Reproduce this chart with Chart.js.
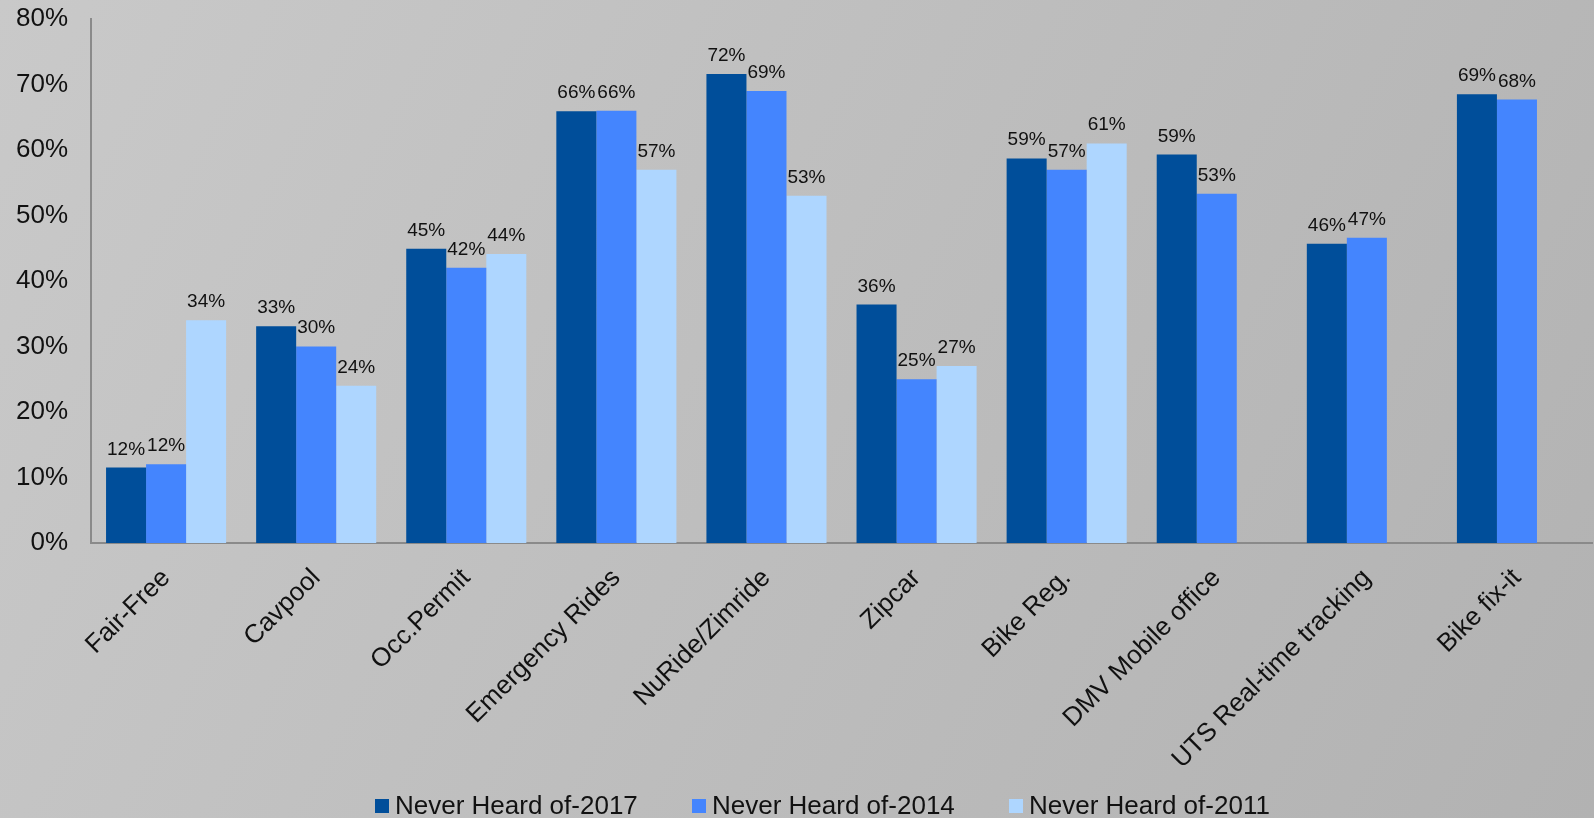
<!DOCTYPE html>
<html lang="en">

<head>
  <meta charset="UTF-8">
  <title>Never Heard Of</title>
  <script src="https://cdn.jsdelivr.net/npm/chart.js"></script>
  <style>
    html, body { margin: 0; padding: 0; }
    #wrap { width: 1594px; height: 818px; }
  </style>
</head>

<body>
  <div id="wrap"><canvas id="chart" width="1594" height="818"></canvas></div>

  <script>
    const categories = ['Fair-Free', 'Cavpool', 'Occ.Permit', 'Emergency Rides', 'NuRide/Zimride',
      'Zipcar', 'Bike Reg.', 'DMV Mobile office', 'UTS Real-time tracking', 'Bike fix-it'];
    const seriesNames = ['Never Heard of-2017', 'Never Heard of-2014', 'Never Heard of-2011'];
    const heard2017 = [11.5, 33.1, 44.9, 65.9, 71.6, 36.4, 58.7, 59.3, 45.7, 68.5];
    const heard2014 = [12.0, 30.0, 42.0, 66.0, 69.0, 25.0, 57.0, 53.3, 46.6, 67.7];
    const heard2011 = [34.0, 24.0, 44.1, 57.0, 53.0, 27.0, 61.0, null, null, null];
    const yTicks = [0, 10, 20, 30, 40, 50, 60, 70, 80];
    const colors = ['#004e9a', '#4485fe', '#aed6ff'];

    const FONT = 'Arial, "Liberation Sans", sans-serif';

    // gray gradient behind everything
    const background = {
      id: 'background',
      beforeDraw(chart) {
        const { ctx, width, height } = chart;
        const g = ctx.createLinearGradient(0, 0, width, height);
        g.addColorStop(0, '#c9c9c9');
        g.addColorStop(1, '#b2b2b2');
        ctx.save();
        ctx.fillStyle = g;
        ctx.fillRect(0, 0, width, height);
        ctx.restore();
      }
    };

    // percentage labels above bars
    const valueLabels = {
      id: 'valueLabels',
      afterDatasetsDraw(chart) {
        const { ctx } = chart;
        ctx.save();
        ctx.font = '19px ' + FONT;
        ctx.fillStyle = '#111';
        ctx.textAlign = 'center';
        ctx.textBaseline = 'alphabetic';
        chart.data.datasets.forEach((ds, i) => {
          chart.getDatasetMeta(i).data.forEach((bar, j) => {
            const v = ds.data[j];
            if (v === null) return;
            ctx.fillText(Math.round(v) + '%', bar.x, bar.y - 13);
          });
        });
        ctx.restore();
      }
    };

    // legend drawn along the bottom edge
    const bottomLegend = {
      id: 'bottomLegend',
      afterDraw(chart) {
        const { ctx } = chart;
        const startX = 375, step = 317, boxY = 799;
        ctx.save();
        ctx.font = '26px ' + FONT;
        ctx.textBaseline = 'middle';
        chart.data.datasets.forEach((ds, i) => {
          const x = startX + i * step;
          ctx.fillStyle = ds.backgroundColor;
          ctx.fillRect(x, boxY, 14, 14);
          ctx.fillStyle = '#111';
          ctx.fillText(ds.label, x + 20, boxY + 8);
        });
        ctx.restore();
      }
    };

    const seriesData = [heard2017, heard2014, heard2011];

    new Chart(document.getElementById('chart'), {
      type: 'bar',
      data: {
        labels: categories,
        datasets: seriesNames.map((name, i) => ({
          label: name,
          data: seriesData[i],
          backgroundColor: colors[i],
          borderWidth: 0,
          categoryPercentage: 0.8,
          barPercentage: 1.0
        }))
      },
      options: {
        responsive: false,
        animation: false,
        layout: { padding: { left: 13, top: 19, right: 2, bottom: 40 } },
        plugins: {
          legend: { display: false },
          tooltip: { enabled: false }
        },
        scales: {
          x: {
            grid: { display: false, drawTicks: true, tickLength: 17 },
            border: { display: true, color: '#8a8a8a', width: 2 },
            ticks: {
              color: '#111',
              font: { family: FONT, size: 26 },
              minRotation: 45,
              maxRotation: 45,
              padding: 3
            }
          },
          y: {
            min: 0,
            max: 80,
            afterBuildTicks(scale) {
              scale.ticks = yTicks.map(v => ({ value: v }));
            },
            grid: { display: false, drawTicks: true, tickLength: 20 },
            border: { display: true, color: '#8a8a8a', width: 2 },
            ticks: {
              color: '#111',
              font: { family: FONT, size: 26 },
              padding: 3,
              callback: v => v + '%'
            }
          }
        }
      },
      plugins: [background, valueLabels, bottomLegend]
    });
  </script>
</body>

</html>
